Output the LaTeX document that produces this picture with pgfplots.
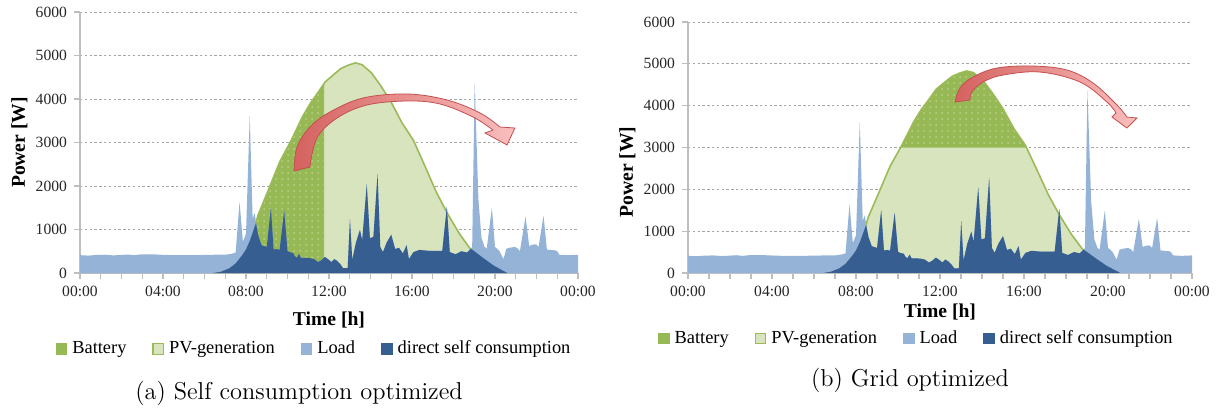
\documentclass[border=0pt]{standalone}
\usepackage{fontspec}
\usepackage{pgfplots}
\usepackage{pgfplotstable}
\pgfplotsset{compat=1.18}
\usetikzlibrary{patterns}
\newfontfamily\tnr{Liberation Serif}
\definecolor{batt}{RGB}{150,185,85}
\definecolor{pvfill}{RGB}{215,228,189}
\definecolor{pvline}{RGB}{155,187,89}
\definecolor{loadc}{RGB}{149,179,215}
\definecolor{selfc}{RGB}{55,94,145}
\definecolor{dotc}{RGB}{185,210,135}
\definecolor{arrowedge}{RGB}{195,80,77}
\definecolor{arrowdark}{RGB}{212,98,96}
\definecolor{arrowlight}{RGB}{250,190,190}
\definecolor{gridc}{RGB}{165,165,165}
\definecolor{axc}{RGB}{190,190,190}

% PV generation
\pgfplotstableread{
h p
6.43 0
6.8 30
7.2 110
7.5 220
7.8 400
8.0 540
8.2 760
8.4 1040
8.48 1160
8.58 1330
9.07 1900
9.62 2550
10.18 3050
10.73 3600
11.1 3900
11.47 4150
11.83 4400
12.2 4550
12.57 4700
12.94 4780
13.27 4830
13.59 4790
14.05 4600
14.5 4300
14.97 3950
15.52 3450
16.07 3050
16.63 2450
17.18 1850
17.73 1350
18.29 900
18.8 560
19.39 360
19.94 170
20.59 0
}\pv

% Battery (a): PV until 11.76 h
\pgfplotstableread{
h p
6.43 0
6.8 30
7.2 110
7.5 220
7.8 400
8.0 540
8.2 760
8.4 1040
8.48 1160
8.58 1330
9.07 1900
9.62 2550
10.18 3050
10.73 3600
11.1 3900
11.47 4150
11.76 4350
}\battA

% PV part below 3000 W (b)
\pgfplotstableread{
h p
6.43 0
6.8 30
7.2 110
7.5 220
7.8 400
8.0 540
8.2 760
8.4 1040
8.48 1160
8.58 1330
9.07 1900
9.62 2550
10.12 3000
16.12 3000
16.63 2450
17.18 1850
17.73 1350
18.29 900
18.8 560
19.39 360
19.94 170
20.59 0
}\pvgrid

% Load
\pgfplotstableread{
h l
0 410
0.4 400
0.8 415
1.2 420
1.6 405
2.0 415
2.3 425
2.6 410
3.0 430
3.5 430
3.9 420
4.5 410
5.0 410
5.5 410
6.0 415
6.5 420
7.0 420
7.3 440
7.5 470
7.69 1640
7.85 720
8.0 900
8.18 3620
8.32 1250
8.42 1380
8.48 1160
8.6 850
8.75 640
9.0 600
9.2 1500
9.33 540
9.5 550
9.62 530
9.84 1440
10.0 510
10.1 480
10.27 460
10.35 390
10.45 350
10.55 440
10.65 350
10.91 350
11.1 340
11.28 320
11.47 250
11.65 300
11.8 370
12.0 300
12.11 250
12.25 320
12.39 280
12.55 200
12.68 110
12.9 110
13.01 1240
13.12 300
13.3 700
13.49 990
13.6 750
13.82 2040
13.97 800
14.14 830
14.34 2280
14.47 600
14.6 480
14.78 700
15.0 880
15.19 550
15.37 580
15.56 450
15.74 640
15.85 320
16.07 480
16.35 530
16.81 510
17.46 510
17.68 1530
17.82 480
18.1 430
18.38 500
18.65 470
18.84 560
18.9 600
19.02 4380
19.2 1700
19.35 800
19.5 600
19.6 560
19.85 1500
20.0 600
20.1 560
20.22 500
20.41 320
20.55 560
20.7 580
20.96 600
21.1 560
21.2 500
21.47 1300
21.65 620
21.8 650
21.97 660
22.1 600
22.34 1320
22.5 540
22.9 520
23.0 500
23.1 420
23.5 410
24 420
}\load

% direct self consumption
\pgfplotstableread{
h s
6.43 0
6.8 30
7.2 110
7.5 220
7.8 400
8.0 540
8.2 760
8.4 1040
8.48 1150
8.6 850
8.75 640
9.0 600
9.2 1500
9.33 540
9.5 550
9.62 530
9.84 1440
10.0 510
10.1 480
10.27 460
10.35 390
10.45 350
10.55 440
10.65 350
10.91 350
11.1 340
11.28 320
11.47 250
11.65 300
11.8 370
12.0 300
12.11 250
12.25 320
12.39 280
12.55 200
12.68 110
12.9 110
13.01 1240
13.12 300
13.3 700
13.49 990
13.6 750
13.82 2040
13.97 800
14.14 830
14.34 2280
14.47 600
14.6 480
14.78 700
15.0 880
15.19 550
15.37 580
15.56 450
15.74 640
15.85 320
16.07 480
16.35 530
16.81 510
17.46 510
17.68 1530
17.82 480
18.1 430
18.38 500
18.65 470
18.84 560
19.39 360
19.94 170
20.59 0
}\selfc

\pgfplotsset{
  common/.style={
    scale only axis, anchor=south west,
    xmin=0, xmax=24, ymin=0, ymax=6000,
    xtick={0,4,...,24},
    xticklabels={00:00,04:00,08:00,12:00,16:00,20:00,00:00},
    minor xtick={1,2,3,5,6,7,9,10,11,13,14,15,17,18,19,21,22,23},
    ytick={0,1000,...,6000},
    ymajorgrids,
    grid style={gridc, dash pattern=on 1.2pt off 1.2pt, line width=0.4pt},
    axis x line*=bottom, axis y line*=left,
    axis line style={axc, line width=0.6pt, -},
    tick style={axc, line width=0.6pt},
    tick align=outside,
    major tick length=3pt, minor tick length=3pt,
    /pgf/number format/assume math mode=true,
    /pgf/number format/1000 sep={},
    tick label style={font=\tnr\fontsize{7.8}{9}\selectfont, text=black!85},
    label style={font=\tnr\bfseries\fontsize{9.8}{11}\selectfont},
    legend columns=4,
    legend cell align=left,
    legend image code/.code={\draw[##1, line width=0.6pt] (0pt,-2.6pt) rectangle (5.2pt,2.6pt);},
    legend style={draw=none, fill=none, anchor=center, inner sep=0pt,
      font=\tnr\fontsize{9.2}{11}\selectfont,
      /tikz/every odd column/.append style={column sep=0.5pt},
      /tikz/every even column/.append style={column sep=11pt}},
  },
}

\begin{document}
\begin{tikzpicture}
\useasboundingbox (0,0) rectangle (609.5pt,203.5pt);

% ---------------- (a) ----------------
\begin{axis}[common, at={(40pt,67pt)}, width=249pt, height=130.5pt,
  xlabel={Time [h]}, ylabel={Power [W]},
  xlabel style={at={(axis description cs:0.5,0)}, anchor=center, yshift=-23.5pt},
  ylabel style={at={(axis description cs:0,0.5)}, anchor=center, yshift=30.3pt},
  legend style={at={(0.472,-0.291)}}]
\addlegendimage{fill=batt, draw=batt}
\addlegendentry{Battery}
\addlegendimage{fill=pvfill, draw=pvline}
\addlegendentry{PV-generation}
\addlegendimage{fill=loadc, draw=loadc}
\addlegendentry{Load}
\addlegendimage{fill=selfc, draw=selfc}
\addlegendentry{direct self consumption}
\addplot[fill=pvfill, draw=none, forget plot] table[x=h, y=p] {\pv} \closedcycle;
\addplot[fill=batt, draw=none, postaction={pattern=dots, pattern color=dotc}, forget plot] table[x=h, y=p] {\battA} \closedcycle;
\addplot[draw=pvline, line width=0.8pt, forget plot] table[x=h, y=p] {\pv};
\addplot[fill=loadc, draw=none, forget plot] table[x=h, y=l] {\load} \closedcycle;
\addplot[fill=selfc, draw=none, forget plot] table[x=h, y=s] {\selfc} \closedcycle;
\shade[draw=arrowedge, line width=0.4pt, left color=arrowdark, right color=arrowlight]
  plot[smooth, tension=0.6] coordinates {(10.31,2345) (10.46,2897) (11.08,3356) (12.05,3701) (13.64,4023) (15.76,4115) (17.69,3977) (19.28,3678) (20.24,3356)}
  -- (20.96,3333) -- (20.58,2943) -- (19.52,3218) -- (19.90,3287)
  -- plot[smooth, tension=0.6] coordinates {(19.90,3287) (18.94,3586) (17.35,3885) (15.76,3954) (13.83,3862) (12.39,3563) (11.42,3103) (11.08,2437)}
  -- cycle;
\end{axis}

% ---------------- (b) ----------------
\begin{axis}[common, at={(344pt,67pt)}, width=252pt, height=125.5pt,
  xlabel={Time [h]}, ylabel={Power [W]},
  xlabel style={at={(axis description cs:0.5,0)}, anchor=center, yshift=-19.5pt},
  ylabel style={at={(axis description cs:0,0.402)}, anchor=center, yshift=30.3pt},
  legend style={at={(0.455,-0.261)}}]
\addlegendimage{fill=batt, draw=batt}
\addlegendentry{Battery}
\addlegendimage{fill=pvfill, draw=pvline}
\addlegendentry{PV-generation}
\addlegendimage{fill=loadc, draw=loadc}
\addlegendentry{Load}
\addlegendimage{fill=selfc, draw=selfc}
\addlegendentry{direct self consumption}
\addplot[fill=batt, draw=none, postaction={pattern=dots, pattern color=dotc}, forget plot] table[x=h, y=p] {\pv} \closedcycle;
\addplot[fill=pvfill, draw=none, forget plot] table[x=h, y=p] {\pvgrid} \closedcycle;
\addplot[draw=pvline, line width=0.8pt, forget plot] table[x=h, y=p] {\pv};
\addplot[fill=loadc, draw=none, forget plot] table[x=h, y=l] {\load} \closedcycle;
\addplot[fill=selfc, draw=none, forget plot] table[x=h, y=s] {\selfc} \closedcycle;
\shade[draw=arrowedge, line width=0.4pt, left color=arrowdark, right color=arrowlight]
  plot[smooth, tension=0.6] coordinates {(12.71,4087) (12.95,4422) (13.57,4684) (14.71,4900) (16.43,4947) (18.05,4852) (19.29,4541) (20.43,4015) (20.90,3728)}
  -- (21.38,3705) -- (20.90,3466) -- (20.19,3728) -- (20.38,3824)
  -- plot[smooth, tension=0.6] coordinates {(20.38,3824) (19.95,4087) (18.67,4565) (16.76,4804) (15.0,4732) (14.05,4565) (13.52,4326) (13.43,4135)}
  -- cycle;
\end{axis}

\node[font=\fontsize{12.2}{14}\selectfont] at (149.5pt,7pt) {(a) Self consumption optimized};
\node[font=\fontsize{12.2}{14}\selectfont] at (455pt,13.5pt) {(b) Grid optimized};
\end{tikzpicture}
\end{document}
